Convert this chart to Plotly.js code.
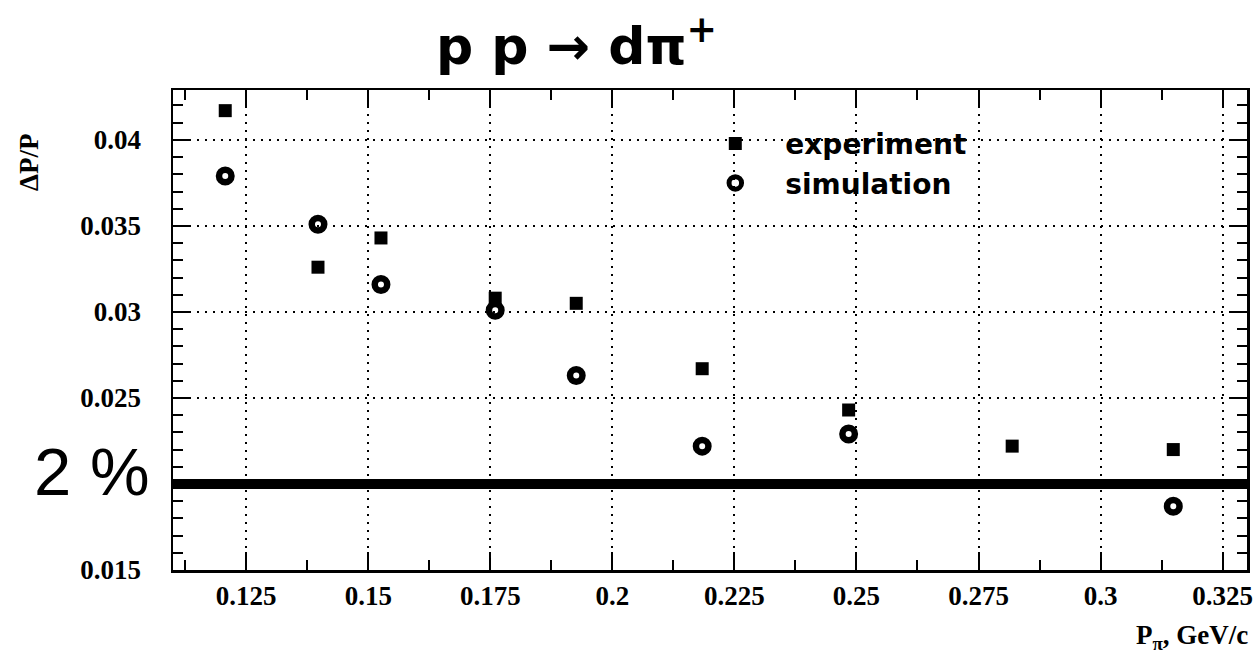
<!DOCTYPE html>
<html>
<head>
<meta charset="utf-8">
<script src="https://cdn.plot.ly/plotly-3.0.1.min.js"></script>
<style>html,body{margin:0;padding:0;background:#fff;}#chart{width:1256px;height:654px;}</style>
</head>
<body>
<div id="chart"></div>
<script>
// Experiment (filled squares)
const expX = [0.1207, 0.1397, 0.1526, 0.1760, 0.1926, 0.2184, 0.2484, 0.2819, 0.3149];
const expY = [0.0417, 0.0326, 0.0343, 0.0308, 0.0305, 0.0267, 0.0243, 0.0222, 0.0220];
// Simulation (open circles)
const simX = [0.1207, 0.1397, 0.1526, 0.1760, 0.1926, 0.2184, 0.2484, 0.3149];
const simY = [0.0379, 0.0351, 0.0316, 0.0301, 0.0263, 0.0222, 0.0229, 0.0187];
// Reference level (2 %)
const refLevel = 0.02;
// Tick labels
const xTickVals = [0.125, 0.15, 0.175, 0.2, 0.225, 0.25, 0.275, 0.3, 0.325];
const xTickText = ["0.125", "0.15", "0.175", "0.2", "0.225", "0.25", "0.275", "0.3", "0.325"];
const yTickVals = [0.015, 0.025, 0.03, 0.035, 0.04];
const yTickText = ["0.015", "0.025", "0.03", "0.035", "0.04"];

const tickFont = {family: "Liberation Serif, Times New Roman, serif", size: 27, color: "#000", weight: 700};

const traces = [
  {
    x: expX, y: expY, name: "experiment", type: "scatter", mode: "markers",
    marker: {symbol: "square", size: 13, color: "#000"}
  },
  {
    x: simX, y: simY, name: "simulation", type: "scatter", mode: "markers",
    marker: {symbol: "circle-open", size: 12.5, color: "#000", line: {width: 6.5, color: "#000"}}
  }
];

const axisCommon = {
  showline: true, linewidth: 2.5, linecolor: "#000", mirror: "ticks",
  ticks: "inside", ticklen: 18, tickwidth: 2, tickcolor: "#000",
  showgrid: true, gridcolor: "#000", gridwidth: 2, griddash: "2px,6px",
  zeroline: false, tickfont: tickFont
};

const layout = {
  width: 1256, height: 654,
  paper_bgcolor: "#fff", plot_bgcolor: "#fff",
  margin: {l: 173, r: 9, t: 90, b: 84},
  title: {
    text: "p p → dπ<sup>+</sup>",
    font: {family: "DejaVu Sans, sans-serif", size: 52, color: "#000", weight: 700},
    x: 0.459, xref: "container", xanchor: "center",
    y: 0.93, yref: "container", yanchor: "middle"
  },
  xaxis: Object.assign({}, axisCommon, {
    range: [0.11, 0.33], tickmode: "array", tickvals: xTickVals, ticktext: xTickText,
    ticklabelstandoff: 0,
    minor: {dtick: 0.0125, tick0: 0.1125, ticks: "inside", ticklen: 10, tickwidth: 2, tickcolor: "#000", showgrid: false}
  }),
  yaxis: Object.assign({}, axisCommon, {
    range: [0.015, 0.0429], tickmode: "array", tickvals: yTickVals, ticktext: yTickText,
    ticklabelstandoff: 24,
    minor: {dtick: 0.001, tick0: 0.015, ticks: "inside", ticklen: 10, tickwidth: 2, tickcolor: "#000", showgrid: false}
  }),
  showlegend: true,
  legend: {
    x: 0.477, xanchor: "left", y: 0.94, yanchor: "top",
    bgcolor: "rgba(0,0,0,0)", borderwidth: 0, itemwidth: 90,
    font: {family: "DejaVu Sans, sans-serif", size: 28, color: "#000", weight: 700},
    tracegroupgap: 0
  },
  shapes: [
    {type: "line", xref: "paper", x0: 0, x1: 1, yref: "y", y0: refLevel, y1: refLevel,
     line: {color: "#000", width: 10}, layer: "above"}
  ],
  annotations: [
    {text: "2 %", xref: "paper", x: -0.0763, xanchor: "center", yref: "paper", y: 0.206, yanchor: "middle",
     showarrow: false, font: {family: "Liberation Sans, Arial, sans-serif", size: 67, color: "#000"}},
    {text: "ΔP/P", xref: "paper", x: -0.134, xanchor: "center", yref: "paper", y: 0.848, yanchor: "middle",
     textangle: -90, showarrow: false,
     font: {family: "Liberation Serif, Times New Roman, serif", size: 27, color: "#000", weight: 700}},
    {text: "P<sub>π</sub>, GeV/c", xref: "paper", x: 1.003, xanchor: "right", yref: "paper", y: -0.14, yanchor: "middle",
     showarrow: false,
     font: {family: "Liberation Serif, Times New Roman, serif", size: 27, color: "#000", weight: 700}}
  ]
};

Plotly.newPlot("chart", traces, layout, {displayModeBar: false, staticPlot: true});
</script>
</body>
</html>
